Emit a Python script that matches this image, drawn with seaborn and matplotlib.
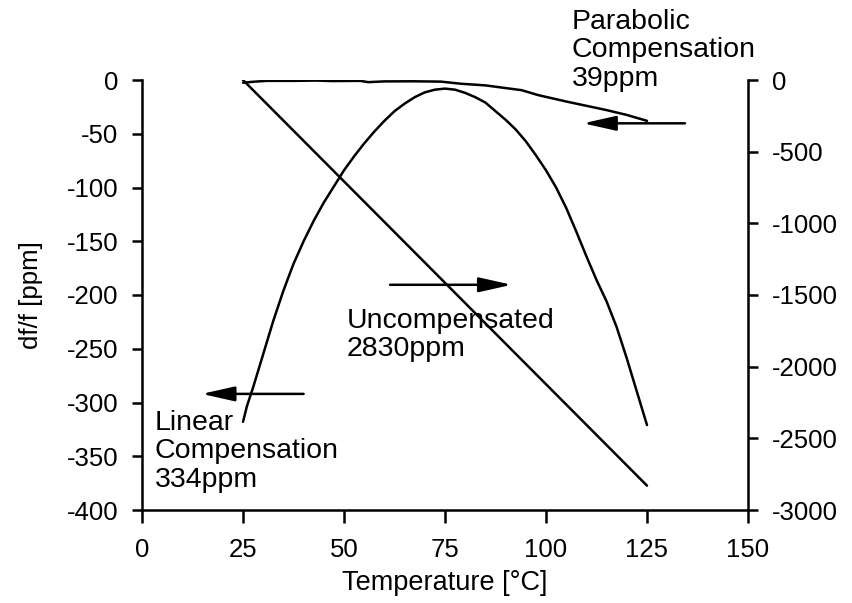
import matplotlib
matplotlib.use("Agg")
import matplotlib.pyplot as plt
import seaborn as sns
import pandas as pd

# ---- data ----
temp_uncomp = [25, 125]
uncompensated = [0, -2830]          # right axis

temp_linear = [25, 26, 27.5, 30, 32.5, 35, 37.5, 40, 42.5, 45, 47.5, 50, 52.5,
               55, 57.5, 60, 62.5, 65, 67.5, 70, 72.5, 75, 77.5, 80, 82.5, 85,
               87.5, 90, 92.5, 95, 97.5, 100, 102.5, 105, 107.5, 110, 112.5,
               115, 117.5, 120, 122.5, 125]
linear_comp = [-318, -303, -286, -255, -224, -196, -171, -150, -131, -114, -99,
               -84, -71, -59, -48, -38, -29, -22, -16, -11.5, -9, -8, -9, -12,
               -16, -21, -29, -37, -46, -57, -70, -84, -100, -119, -141, -164,
               -186, -206, -230, -259, -290, -321]

temp_parab = [25, 28, 31, 38, 43, 47, 54, 56, 60, 67, 74, 79, 85, 90, 94, 98,
              105, 110, 115, 120, 125]
parab_comp = [-2.5, -1.5, -0.8, -0.8, -0.5, -1.0, -0.8, -2.0, -1.3, -1.2, -1.5,
              -3.5, -5, -7.5, -9.5, -14, -20, -24, -28, -32.5, -38]

x_ticks = [0, 25, 50, 75, 100, 125, 150]
left_ticks = [0, -50, -100, -150, -200, -250, -300, -350, -400]
right_ticks = [0, -500, -1000, -1500, -2000, -2500, -3000]

sns.set_style("ticks")
plt.rcParams["font.family"] = ["Liberation Sans", "DejaVu Sans"]
plt.rcParams["axes.unicode_minus"] = False
plt.rcParams["text.color"] = "black"
plt.rcParams["axes.labelcolor"] = "black"

fig = plt.figure(figsize=(8.53, 6.03), dpi=100)
ax = fig.add_axes([142 / 853, 1 - 510 / 603, (748 - 142) / 853, (510 - 80) / 603])
ax2 = ax.twinx()

LW = 1.8
df_lin = pd.DataFrame({"T": temp_linear, "v": linear_comp})
df_par = pd.DataFrame({"T": temp_parab, "v": parab_comp})
df_unc = pd.DataFrame({"T": temp_uncomp, "v": uncompensated})
sns.lineplot(data=df_lin, x="T", y="v", ax=ax, color="black", lw=LW, sort=False)
sns.lineplot(data=df_par, x="T", y="v", ax=ax, color="black", lw=LW, sort=False)
sns.lineplot(data=df_unc, x="T", y="v", ax=ax2, color="black", lw=LW, sort=False)

ax.set_xlim(0, 150)
ax.set_ylim(-400, 0)
ax2.set_ylim(-3000, 0)
ax.set_xticks(x_ticks)
ax.set_yticks(left_ticks)
ax2.set_yticks(right_ticks)

TICK_FS = 18.5
ax.set_xlabel("Temperature [°C]", fontsize=19.5, labelpad=6)
ax.set_ylabel("df/f [ppm]", fontsize=18.5)
ax.yaxis.set_label_coords(-0.163, 0.5)
ax2.set_ylabel("")

for a in (ax, ax2):
    a.tick_params(axis="y", labelsize=TICK_FS, length=7, width=1.8,
                  direction="out", color="black", labelcolor="black", pad=10)
    a.tick_params(axis="x", labelsize=TICK_FS, length=9, width=1.8,
                  direction="out", color="black", labelcolor="black", pad=11)
    for s in a.spines.values():
        s.set_linewidth(1.8)
        s.set_color("black")
    a.spines["top"].set_visible(False)
ax.spines["right"].set_visible(False)
ax2.spines["left"].set_visible(False)
ax2.spines["bottom"].set_visible(False)

# annotations
arrow = dict(arrowstyle="-|>,head_length=0.8,head_width=0.18", color="black",
             lw=LW, mutation_scale=25, shrinkA=0, shrinkB=0)
ax.annotate("", xy=(14.8, -292), xytext=(40, -292), arrowprops=arrow)
ax.annotate("", xy=(91.5, -190.5), xytext=(61.4, -190.5), arrowprops=arrow)
ax.annotate("", xy=(109.2, -40.3), xytext=(134.4, -40.3), arrowprops=arrow,
            annotation_clip=False)

ANN_FS = 20.5
ax.text(3.2, -307, "Linear\nCompensation\n334ppm", fontsize=ANN_FS, va="top",
        ha="left", linespacing=1.12)
ax.text(50.7, -212, "Uncompensated\n2830ppm", fontsize=ANN_FS, va="top",
        ha="left", linespacing=1.12)
ax.text(106.4, 66, "Parabolic\nCompensation\n39ppm", fontsize=ANN_FS, va="top",
        ha="left", linespacing=1.12, clip_on=False)

fig.savefig("out.png", dpi=100)
